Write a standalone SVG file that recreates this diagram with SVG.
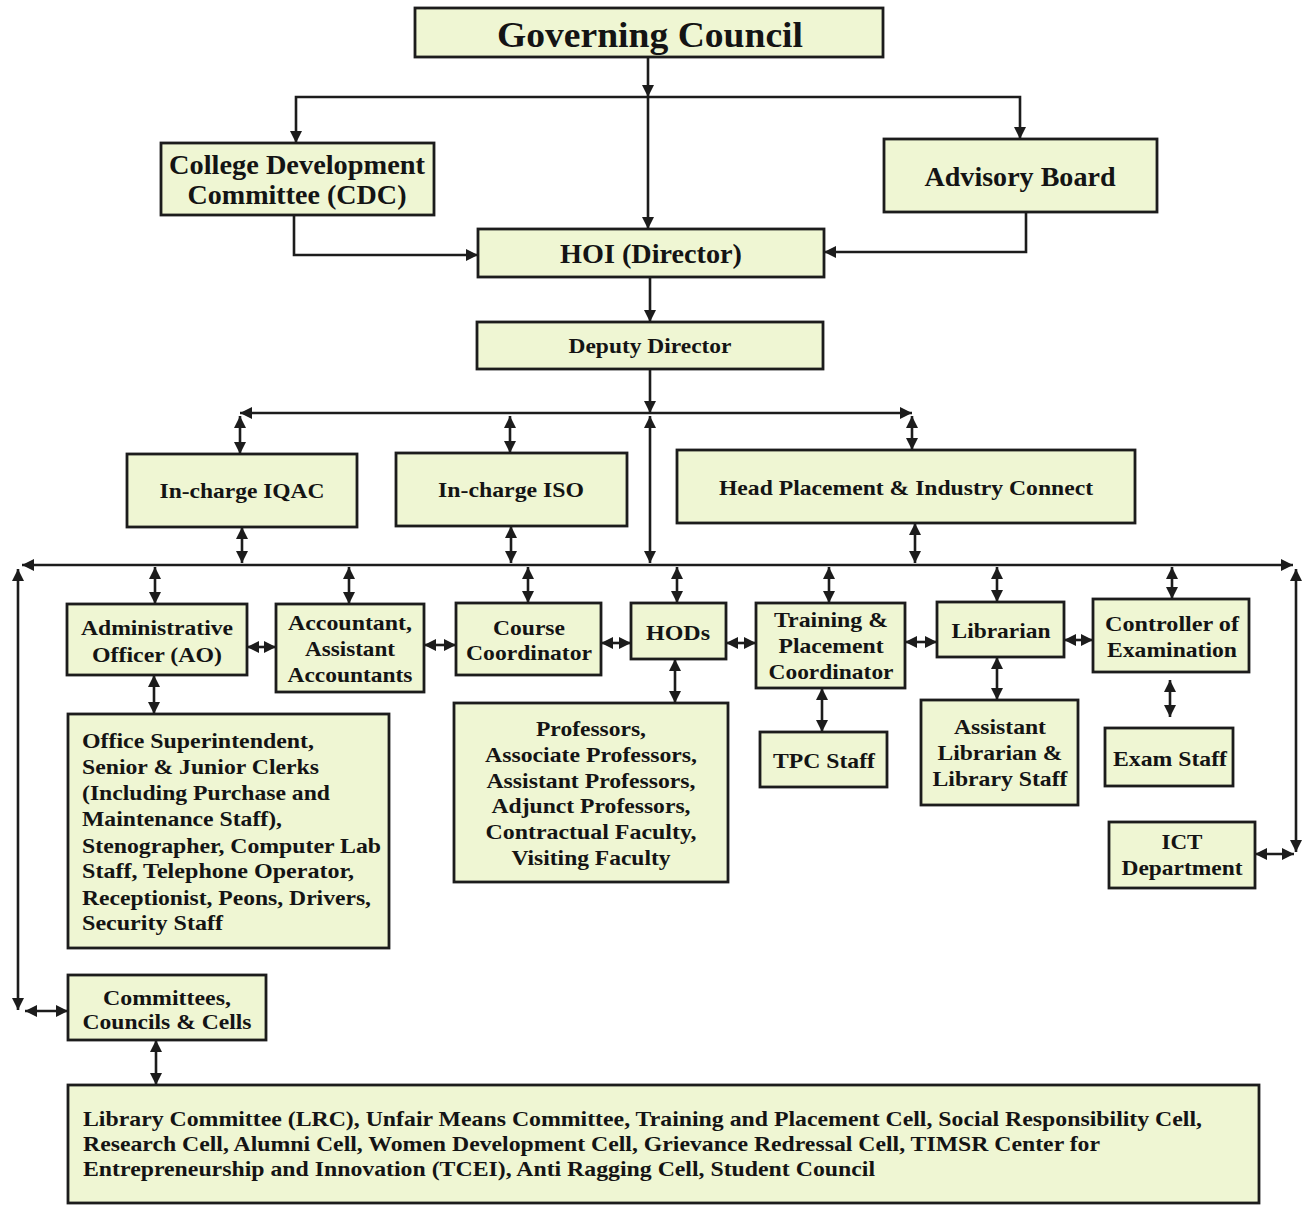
<svg xmlns="http://www.w3.org/2000/svg" width="1303" height="1205" viewBox="0 0 1303 1205">
<style>
.box{fill:#eff6d3;stroke:#1c1c1c;stroke-width:2.8}
text{font-family:"Liberation Serif","Times New Roman",serif;font-weight:bold;fill:#141414}
.c{text-anchor:middle}
.f34{font-size:36px}.f26{font-size:27px}.f22{font-size:22px}.f21{font-size:22px}
.ln{fill:none;stroke:#1c1c1c;stroke-width:2.6}
.a{marker-end:url(#ah)}
.d{marker-start:url(#ah);marker-end:url(#ah)}
</style>
<defs>
<marker id="ah" markerUnits="userSpaceOnUse" markerWidth="12" markerHeight="12" refX="10" refY="5" orient="auto-start-reverse" viewBox="0 0 10 10">
<path d="M0,0 L10,5 L0,10 z" fill="#1c1c1c"/>
</marker>
</defs>
<rect width="1303" height="1205" fill="#ffffff"/>

<g id="connectors">
<path class="ln a" d="M648,57 V97"/>
<path class="ln a" d="M648,97 V229"/>
<path class="ln a" d="M648,97 H296 V143"/>
<path class="ln a" d="M648,97 H1020 V139"/>
<path class="ln a" d="M294,215 V255 H478"/>
<path class="ln a" d="M1026,212 V252 H824"/>
<path class="ln a" d="M650,277 V322"/>
<path class="ln a" d="M650,369 V413"/>
<path class="ln a" d="M650,413 H240"/>
<path class="ln a" d="M650,413 H912"/>
<path class="ln d" d="M240,416 V454"/>
<path class="ln d" d="M510,416 V453"/>
<path class="ln d" d="M912,416 V450"/>
<path class="ln d" d="M650,416 V563"/>
<path class="ln d" d="M242,527 V563"/>
<path class="ln d" d="M511,526 V563"/>
<path class="ln d" d="M915,523 V563"/>
<path class="ln d" d="M22,565 H1293"/>
<path class="ln d" d="M18,569 V1010"/>
<path class="ln d" d="M25,1011 H68"/>
<path class="ln d" d="M1296,569 V852"/>
<path class="ln d" d="M1255,854 H1294"/>
<path class="ln d" d="M155,567 V604"/>
<path class="ln d" d="M349,567 V604"/>
<path class="ln d" d="M528,567 V603"/>
<path class="ln d" d="M677,567 V603"/>
<path class="ln d" d="M829,567 V603"/>
<path class="ln d" d="M997,567 V602"/>
<path class="ln d" d="M1172,567 V599"/>
<path class="ln d" d="M247,647 H276"/>
<path class="ln d" d="M424,645 H456"/>
<path class="ln d" d="M601,643 H631"/>
<path class="ln d" d="M726,643 H756"/>
<path class="ln d" d="M905,642 H937"/>
<path class="ln d" d="M1064,640 H1093"/>
<path class="ln d" d="M154,675 V714"/>
<path class="ln d" d="M675,659 V703"/>
<path class="ln d" d="M822,688 V732"/>
<path class="ln d" d="M997,657 V700"/>
<path class="ln d" d="M1170,680 V717"/>
<path class="ln d" d="M156,1040 V1085"/>
</g>

<g id="governing-council">
<rect class="box" x="415" y="8" width="468" height="49"/>
<text class="c f34" x="650" y="47" textLength="306" lengthAdjust="spacingAndGlyphs">Governing Council</text>
</g>
<g id="cdc">
<rect class="box" x="161" y="143" width="273" height="72"/>
<text class="c f26" x="297" y="174" textLength="256" lengthAdjust="spacingAndGlyphs">College Development</text>
<text class="c f26" x="297" y="204" textLength="219" lengthAdjust="spacingAndGlyphs">Committee (CDC)</text>
</g>
<g id="advisory-board">
<rect class="box" x="884" y="139" width="273" height="73"/>
<text class="c f26" x="1020" y="186" textLength="191" lengthAdjust="spacingAndGlyphs">Advisory Board</text>
</g>
<g id="hoi">
<rect class="box" x="478" y="229" width="346" height="48"/>
<text class="c f26" x="651" y="263" textLength="182" lengthAdjust="spacingAndGlyphs">HOI (Director)</text>
</g>
<g id="deputy-director">
<rect class="box" x="477" y="322" width="346" height="47"/>
<text class="c f22" x="650" y="353" textLength="163" lengthAdjust="spacingAndGlyphs">Deputy Director</text>
</g>
<g id="iqac">
<rect class="box" x="127" y="454" width="230" height="73"/>
<text class="c f22" x="242" y="498" textLength="165" lengthAdjust="spacingAndGlyphs">In-charge IQAC</text>
</g>
<g id="iso">
<rect class="box" x="396" y="453" width="231" height="73"/>
<text class="c f22" x="511" y="497" textLength="146" lengthAdjust="spacingAndGlyphs">In-charge ISO</text>
</g>
<g id="head-placement">
<rect class="box" x="677" y="450" width="458" height="73"/>
<text class="c f22" x="906" y="495" textLength="374" lengthAdjust="spacingAndGlyphs">Head Placement &amp; Industry Connect</text>
</g>
<g id="ao">
<rect class="box" x="67" y="604" width="180" height="71"/>
<text class="c f21" x="157" y="635" textLength="152" lengthAdjust="spacingAndGlyphs">Administrative</text>
<text class="c f21" x="157" y="662" textLength="130" lengthAdjust="spacingAndGlyphs">Officer (AO)</text>
</g>
<g id="accountant">
<rect class="box" x="276" y="604" width="148" height="88"/>
<text class="c f21" x="350" y="630" textLength="124" lengthAdjust="spacingAndGlyphs">Accountant,</text>
<text class="c f21" x="350" y="656" textLength="90" lengthAdjust="spacingAndGlyphs">Assistant</text>
<text class="c f21" x="350" y="682" textLength="125" lengthAdjust="spacingAndGlyphs">Accountants</text>
</g>
<g id="course-coordinator">
<rect class="box" x="456" y="603" width="145" height="72"/>
<text class="c f21" x="529" y="635" textLength="72" lengthAdjust="spacingAndGlyphs">Course</text>
<text class="c f21" x="529" y="660" textLength="126" lengthAdjust="spacingAndGlyphs">Coordinator</text>
</g>
<g id="hods">
<rect class="box" x="631" y="603" width="95" height="56"/>
<text class="c f21" x="678" y="640" textLength="64" lengthAdjust="spacingAndGlyphs">HODs</text>
</g>
<g id="tpc">
<rect class="box" x="756" y="603" width="149" height="85"/>
<text class="c f21" x="831" y="627" textLength="114" lengthAdjust="spacingAndGlyphs">Training &amp;</text>
<text class="c f21" x="831" y="653" textLength="105" lengthAdjust="spacingAndGlyphs">Placement</text>
<text class="c f21" x="831" y="679" textLength="125" lengthAdjust="spacingAndGlyphs">Coordinator</text>
</g>
<g id="librarian">
<rect class="box" x="937" y="602" width="127" height="55"/>
<text class="c f21" x="1001" y="638" textLength="99" lengthAdjust="spacingAndGlyphs">Librarian</text>
</g>
<g id="controller">
<rect class="box" x="1093" y="599" width="156" height="73"/>
<text class="c f21" x="1172" y="631" textLength="134" lengthAdjust="spacingAndGlyphs">Controller of</text>
<text class="c f21" x="1172" y="657" textLength="130" lengthAdjust="spacingAndGlyphs">Examination</text>
</g>
<g id="office-staff">
<rect class="box" x="68" y="714" width="321" height="234"/>
<text class="f21" x="82" y="748" textLength="232" lengthAdjust="spacingAndGlyphs">Office Superintendent,</text>
<text class="f21" x="82" y="774" textLength="237" lengthAdjust="spacingAndGlyphs">Senior &amp; Junior Clerks</text>
<text class="f21" x="82" y="800" textLength="248" lengthAdjust="spacingAndGlyphs">(Including Purchase and</text>
<text class="f21" x="82" y="826" textLength="200" lengthAdjust="spacingAndGlyphs">Maintenance Staff),</text>
<text class="f21" x="82" y="853" textLength="299" lengthAdjust="spacingAndGlyphs">Stenographer, Computer Lab</text>
<text class="f21" x="82" y="878" textLength="272" lengthAdjust="spacingAndGlyphs">Staff, Telephone Operator,</text>
<text class="f21" x="82" y="905" textLength="289" lengthAdjust="spacingAndGlyphs">Receptionist, Peons, Drivers,</text>
<text class="f21" x="82" y="930" textLength="141" lengthAdjust="spacingAndGlyphs">Security Staff</text>
</g>
<g id="faculty">
<rect class="box" x="454" y="703" width="274" height="179"/>
<text class="c f21" x="591" y="736" textLength="110" lengthAdjust="spacingAndGlyphs">Professors,</text>
<text class="c f21" x="591" y="762" textLength="212" lengthAdjust="spacingAndGlyphs">Associate Professors,</text>
<text class="c f21" x="591" y="788" textLength="209" lengthAdjust="spacingAndGlyphs">Assistant Professors,</text>
<text class="c f21" x="591" y="813" textLength="199" lengthAdjust="spacingAndGlyphs">Adjunct Professors,</text>
<text class="c f21" x="591" y="839" textLength="211" lengthAdjust="spacingAndGlyphs">Contractual Faculty,</text>
<text class="c f21" x="591" y="865" textLength="159" lengthAdjust="spacingAndGlyphs">Visiting Faculty</text>
</g>
<g id="tpc-staff">
<rect class="box" x="760" y="732" width="127" height="55"/>
<text class="c f21" x="824" y="768" textLength="102" lengthAdjust="spacingAndGlyphs">TPC Staff</text>
</g>
<g id="assistant-librarian">
<rect class="box" x="921" y="700" width="157" height="105"/>
<text class="c f21" x="1000" y="734" textLength="92" lengthAdjust="spacingAndGlyphs">Assistant</text>
<text class="c f21" x="1000" y="760" textLength="125" lengthAdjust="spacingAndGlyphs">Librarian &amp;</text>
<text class="c f21" x="1000" y="786" textLength="135" lengthAdjust="spacingAndGlyphs">Library Staff</text>
</g>
<g id="exam-staff">
<rect class="box" x="1105" y="728" width="128" height="58"/>
<text class="c f21" x="1170" y="766" textLength="114" lengthAdjust="spacingAndGlyphs">Exam Staff</text>
</g>
<g id="ict">
<rect class="box" x="1109" y="822" width="146" height="66"/>
<text class="c f21" x="1182" y="849" textLength="41" lengthAdjust="spacingAndGlyphs">ICT</text>
<text class="c f21" x="1182" y="875" textLength="121" lengthAdjust="spacingAndGlyphs">Department</text>
</g>
<g id="committees">
<rect class="box" x="68" y="975" width="198" height="65"/>
<text class="c f21" x="167" y="1005" textLength="128" lengthAdjust="spacingAndGlyphs">Committees,</text>
<text class="c f21" x="167" y="1029" textLength="169" lengthAdjust="spacingAndGlyphs">Councils &amp; Cells</text>
</g>
<g id="cells-list">
<rect class="box" x="68" y="1085" width="1191" height="118"/>
<text class="f21" x="83" y="1126" textLength="1119" lengthAdjust="spacingAndGlyphs">Library Committee (LRC), Unfair Means Committee, Training and Placement Cell, Social Responsibility Cell,</text>
<text class="f21" x="83" y="1151" textLength="1017" lengthAdjust="spacingAndGlyphs">Research Cell, Alumni Cell, Women Development Cell, Grievance Redressal Cell, TIMSR Center for</text>
<text class="f21" x="83" y="1176" textLength="792" lengthAdjust="spacingAndGlyphs">Entrepreneurship and Innovation (TCEI), Anti Ragging Cell, Student Council</text>
</g>
</svg>
